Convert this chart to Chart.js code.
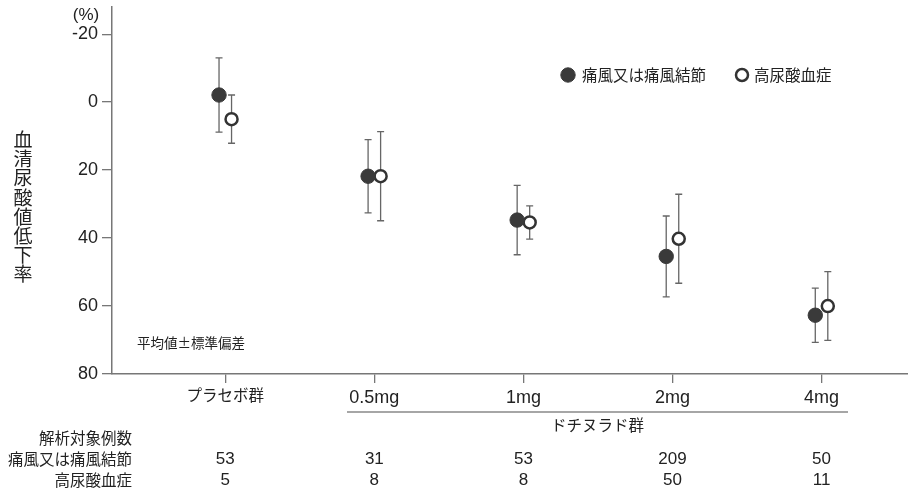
<!DOCTYPE html>
<html>
<head>
<meta charset="utf-8">
<script src="https://cdn.jsdelivr.net/npm/chart.js@4"></script>
<style>
  body { margin: 0; background: #fff; }
  canvas { display: block; }
</style>
</head>
<body>
<canvas id="uaChart" width="908" height="494"></canvas>
<script>
// data
const categories = ['プラセボ群', '0.5mg', '1mg', '2mg', '4mg'];
const goutMean = [-2.1, 21.8, 34.7, 45.4, 62.7];
const goutSd = [10.9, 10.8, 10.2, 11.9, 8.0];
const hyperMean = [5.0, 21.8, 35.4, 40.2, 60.0];
const hyperSd = [7.1, 13.1, 4.9, 13.1, 10.1];
const goutN = [53, 31, 53, 209, 50];
const hyperN = [5, 8, 8, 50, 11];
const yTicks = [-20, 0, 20, 40, 60, 80];
const seriesNames = ['痛風又は痛風結節', '高尿酸血症'];

const FONT = "'Liberation Sans', 'Noto Sans CJK JP', sans-serif";
const JP = "'Noto Sans CJK JP', sans-serif";
const SHIFT = 0.042;
const AXIS = '#777';

Chart.defaults.font.family = FONT;
Chart.defaults.color = '#222';

const errorBars = {
  id: 'errorBars',
  beforeDatasetsDraw(chart) {
    const { ctx } = chart;
    const y = chart.scales.y;
    ctx.save();
    ctx.strokeStyle = '#666';
    ctx.lineWidth = 1.3;
    chart.data.datasets.forEach((ds, di) => {
      const meta = chart.getDatasetMeta(di);
      meta.data.forEach((pt, i) => {
        const m = ds.data[i].y, s = ds.sd[i];
        const top = y.getPixelForValue(m - s);
        const bot = y.getPixelForValue(m + s);
        ctx.beginPath();
        ctx.moveTo(pt.x, top); ctx.lineTo(pt.x, bot);
        ctx.moveTo(pt.x - 3.5, top); ctx.lineTo(pt.x + 3.5, top);
        ctx.moveTo(pt.x - 3.5, bot); ctx.lineTo(pt.x + 3.5, bot);
        ctx.stroke();
      });
    });
    ctx.restore();
  }
};

const extras = {
  id: 'extras',
  afterDraw(chart) {
    const { ctx } = chart;
    const x = chart.scales.x;
    ctx.save();
    ctx.fillStyle = '#222';

    // vertical y title
    ctx.font = '19px ' + JP;
    ctx.textAlign = 'center';
    ctx.textBaseline = 'middle';
    '血清尿酸値低下率'.split('').forEach((ch, i) => ctx.fillText(ch, 23, 140 + i * 19.1));

    ctx.font = '17px ' + FONT;
    ctx.fillText('(%)', 86, 15);

    // legend
    const ds = chart.data.datasets;
    ctx.textAlign = 'left';
    ctx.font = '15.5px ' + JP;
    [[568, 582], [742, 754]].forEach(([cx, tx], i) => {
      ctx.beginPath();
      ctx.arc(cx, 75, ds[i].pointRadius, 0, Math.PI * 2);
      ctx.fillStyle = ds[i].pointBackgroundColor;
      ctx.fill();
      ctx.lineWidth = ds[i].pointBorderWidth;
      ctx.strokeStyle = ds[i].pointBorderColor;
      ctx.stroke();
      ctx.fillStyle = '#222';
      ctx.fillText(seriesNames[i], tx, 75);
    });

    ctx.font = '13.5px ' + JP;
    ctx.fillText('平均値±標準偏差', 137, 343);

    // dotinurad bracket
    ctx.strokeStyle = '#888';
    ctx.lineWidth = 1.5;
    ctx.beginPath();
    ctx.moveTo(347, 412); ctx.lineTo(848, 412);
    ctx.stroke();
    ctx.textAlign = 'center';
    ctx.font = '15.5px ' + JP;
    ctx.fillText('ドチヌラド群', 597.5, 425);

    // n table
    ctx.textAlign = 'right';
    ctx.fillText('解析対象例数', 132, 438);
    ctx.fillText(seriesNames[0], 132, 459);
    ctx.fillText(seriesNames[1], 132, 480.5);
    ctx.textAlign = 'center';
    ctx.font = '17px ' + FONT;
    categories.forEach((c, i) => {
      const px = x.getPixelForValue(i);
      ctx.fillText(String(goutN[i]), px, 459);
      ctx.fillText(String(hyperN[i]), px, 480.5);
    });
    ctx.restore();
  }
};

new Chart(document.getElementById('uaChart'), {
  type: 'scatter',
  data: {
    datasets: [
      {
        label: seriesNames[0],
        data: categories.map((c, i) => ({ x: i - SHIFT, y: goutMean[i] })),
        sd: goutSd,
        pointRadius: 7.2,
        pointBackgroundColor: '#3a3a3a',
        pointBorderColor: '#3a3a3a',
        pointBorderWidth: 1
      },
      {
        label: seriesNames[1],
        data: categories.map((c, i) => ({ x: i + SHIFT, y: hyperMean[i] })),
        sd: hyperSd,
        pointRadius: 6,
        pointBackgroundColor: '#fff',
        pointBorderColor: '#333',
        pointBorderWidth: 2.5
      }
    ]
  },
  options: {
    responsive: false,
    animation: false,
    layout: { autoPadding: false, padding: { top: 7, left: 0, right: 0, bottom: 0 } },
    plugins: { legend: { display: false }, tooltip: { enabled: false } },
    scales: {
      x: {
        type: 'linear',
        min: -0.76,
        max: 4.58,
        afterBuildTicks: s => { s.ticks = categories.map((c, i) => ({ value: i })); },
        afterFit: s => { s.height = 120; s.paddingLeft = 0; s.paddingRight = 0; },
        ticks: {
          padding: 4,
          color: '#222',
          font: c => (c.index === 0 ? { size: 15.5 } : { size: 18 }),
          callback: v => categories[v]
        },
        grid: { drawOnChartArea: false, drawTicks: true, tickLength: 9, color: AXIS, lineWidth: 1.3 },
        border: { display: true, color: AXIS, width: 1.5 }
      },
      y: {
        reverse: true,
        min: -28,
        max: 80,
        afterBuildTicks: s => { s.ticks = yTicks.map(v => ({ value: v })); },
        afterFit: s => { s.width = 112; s.paddingTop = 0; s.paddingBottom = 0; },
        ticks: { padding: 4, color: '#222', font: { size: 18 } },
        grid: { drawOnChartArea: false, drawTicks: true, tickLength: 10, color: AXIS, lineWidth: 1.3 },
        border: { display: true, color: AXIS, width: 1.5 }
      }
    }
  },
  plugins: [errorBars, extras]
});
</script>
</body>
</html>
